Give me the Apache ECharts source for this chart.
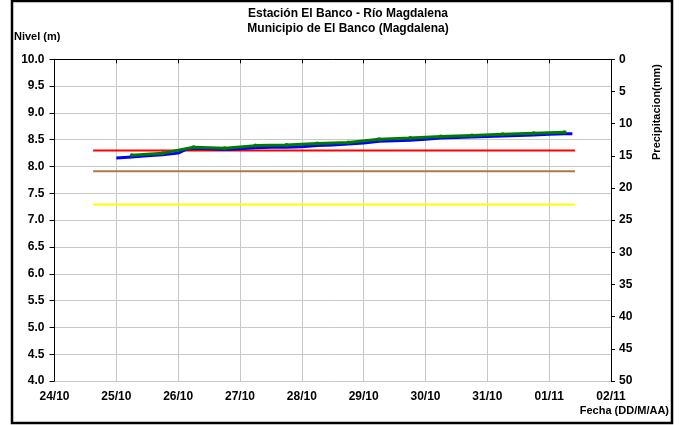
<!DOCTYPE html>
<html>
<head>
  <meta charset="utf-8">
  <title>Estación El Banco - Río Magdalena</title>
  <script src="https://cdn.jsdelivr.net/npm/echarts@6/dist/echarts.min.js"></script>
  <style>
    html, body { margin: 0; padding: 0; background: #fff; }
    #chart { width: 679px; height: 425px; }
  </style>
</head>
<body>
<div id="chart"></div>
<script>
  // etiquetas del eje x (dia 0 = 24/10)
  const tickLabels = ['24/10', '25/10', '26/10', '27/10', '28/10', '29/10', '30/10', '31/10', '01/11', '02/11'];

  // nivel observado (azul), fecha "dd/mm hh"
  const nivelFechas = ['25/10 00', '25/10 06', '25/10 12', '25/10 18', '26/10 00', '26/10 03', '26/10 06', '26/10 12',
    '26/10 18', '27/10 00', '27/10 06', '27/10 12', '27/10 18', '28/10 00', '28/10 06', '28/10 12', '28/10 18',
    '29/10 00', '29/10 06', '29/10 12', '29/10 18', '30/10 00', '30/10 06', '30/10 12', '30/10 18', '31/10 00',
    '31/10 06', '31/10 12', '31/10 18', '01/11 00', '01/11 06', '01/11 09'];
  const nivelValores = [8.16, 8.18, 8.20, 8.22, 8.25, 8.32, 8.34, 8.33, 8.32, 8.33, 8.35, 8.36, 8.36, 8.37, 8.39, 8.40,
    8.42, 8.44, 8.47, 8.48, 8.49, 8.51, 8.53, 8.54, 8.55, 8.56, 8.57, 8.58, 8.59, 8.60, 8.61, 8.61];

  // nivel (verde, con marcadores) cada 12 horas
  const verdeFechas = ['25/10 06', '25/10 18', '26/10 06', '26/10 18', '27/10 06', '27/10 18', '28/10 06', '28/10 18',
    '29/10 06', '29/10 18', '30/10 06', '30/10 18', '31/10 06', '31/10 18', '01/11 06'];
  const verdeValores = [8.21, 8.25, 8.36, 8.34, 8.39, 8.40, 8.43, 8.45, 8.51, 8.53, 8.56, 8.58, 8.60, 8.62, 8.64];

  // umbrales
  const umbralFechas = ['24/10 15', '01/11 10'];
  const umbralRojo = 8.30;
  const umbralCafe = 7.91;
  const umbralAmarillo = 7.29;

  // convierte "dd/mm hh" a dias desde 24/10
  function aDia(s) {
    let d = parseInt(s.substr(0, 2), 10);
    let m = parseInt(s.substr(3, 2), 10);
    let h = parseInt(s.substr(6, 2), 10);
    let dia = (m === 10 ? d - 24 : d + 7);
    return dia + h / 24;
  }
  function pares(fechas, valores) {
    let out = [];
    for (let i = 0; i < fechas.length; i++) {
      out.push([aDia(fechas[i]), valores[i]]);
    }
    return out;
  }
  function linea(v) {
    return umbralFechas.map(f => [aDia(f), v]);
  }

  const fuente = 'Liberation Sans, Arial, sans-serif';
  let myChart = echarts.init(document.getElementById('chart'));
  let option = {
    backgroundColor: '#fff',
    animation: false,
    title: {
      text: 'Estación El Banco - Río Magdalena\nMunicipio de El Banco (Magdalena)',
      left: 343,
      textAlign: 'center',
      top: 1,
      textStyle: { fontFamily: fuente, fontSize: 12, fontWeight: 'bold', color: '#000', lineHeight: 15 }
    },
    grid: { left: 54.5, right: 68, top: 59.3, bottom: 44 },
    xAxis: {
      type: 'value',
      min: 0,
      max: 9,
      interval: 1,
      axisLine: { lineStyle: { color: '#000', width: 1 } },
      axisTick: { show: true, length: 4, lineStyle: { color: '#000' } },
      axisLabel: {
        fontFamily: fuente, fontSize: 12, fontWeight: 'bold', color: '#000', margin: 10,
        formatter: function (v) { return tickLabels[Math.round(v)]; }
      },
      splitLine: { show: true, lineStyle: { color: '#c8c8c8', width: 1 } }
    },
    yAxis: [
      {
        type: 'value',
        min: 4,
        max: 10,
        interval: 0.5,
        axisLine: { show: true, lineStyle: { color: '#000', width: 1 } },
        axisTick: { show: true, length: 5, lineStyle: { color: '#000' } },
        axisLabel: {
          fontFamily: fuente, fontSize: 12, fontWeight: 'bold', color: '#000', margin: 10,
          formatter: function (v) { return v.toFixed(1); }
        },
        splitLine: { show: true, lineStyle: { color: '#c8c8c8', width: 1 } }
      },
      {
        type: 'value',
        min: 0,
        max: 50,
        interval: 5,
        inverse: true,
        position: 'right',
        axisLine: { show: true, lineStyle: { color: '#000', width: 1 } },
        axisTick: { show: true, length: 4, lineStyle: { color: '#000' } },
        axisLabel: { fontFamily: fuente, fontSize: 12, fontWeight: 'bold', color: '#000', margin: 8 },
        splitLine: { show: false }
      }
    ],
    graphic: [
      { type: 'rect', shape: { x: 12, y: 1, width: 660, height: 422 }, style: { fill: 'none', stroke: '#000', lineWidth: 2.5 }, silent: true },
      { type: 'text', left: 14, top: 31, style: { text: 'Nivel (m)', font: 'bold 11px ' + fuente, fill: '#000' } },
      { type: 'text', x: 657, y: 112, rotation: Math.PI / 2, style: { text: 'Precipitacion(mm)', font: 'bold 11px ' + fuente, fill: '#000', align: 'center', verticalAlign: 'middle' } },
      { type: 'text', right: 10, top: 405, style: { text: 'Fecha (DD/M/AA)', font: 'bold 11px ' + fuente, fill: '#000' } }
    ],
    series: [
      { type: 'line', data: linea(umbralRojo), symbol: 'none', lineStyle: { color: '#ff0000', width: 2 } },
      { type: 'line', data: linea(umbralCafe), symbol: 'none', lineStyle: { color: '#a87a4c', width: 2 } },
      { type: 'line', data: linea(umbralAmarillo), symbol: 'none', lineStyle: { color: '#ffff00', width: 2 } },
      { type: 'line', data: pares(nivelFechas, nivelValores), symbol: 'none', lineStyle: { color: '#0000ff', width: 3 } },
      {
        type: 'line', data: pares(verdeFechas, verdeValores), symbol: 'circle', symbolSize: 4,
        itemStyle: { color: '#007a00' }, lineStyle: { color: '#007a00', width: 3 }
      }
    ]
  };
  myChart.setOption(option);
</script>
</body>
</html>
